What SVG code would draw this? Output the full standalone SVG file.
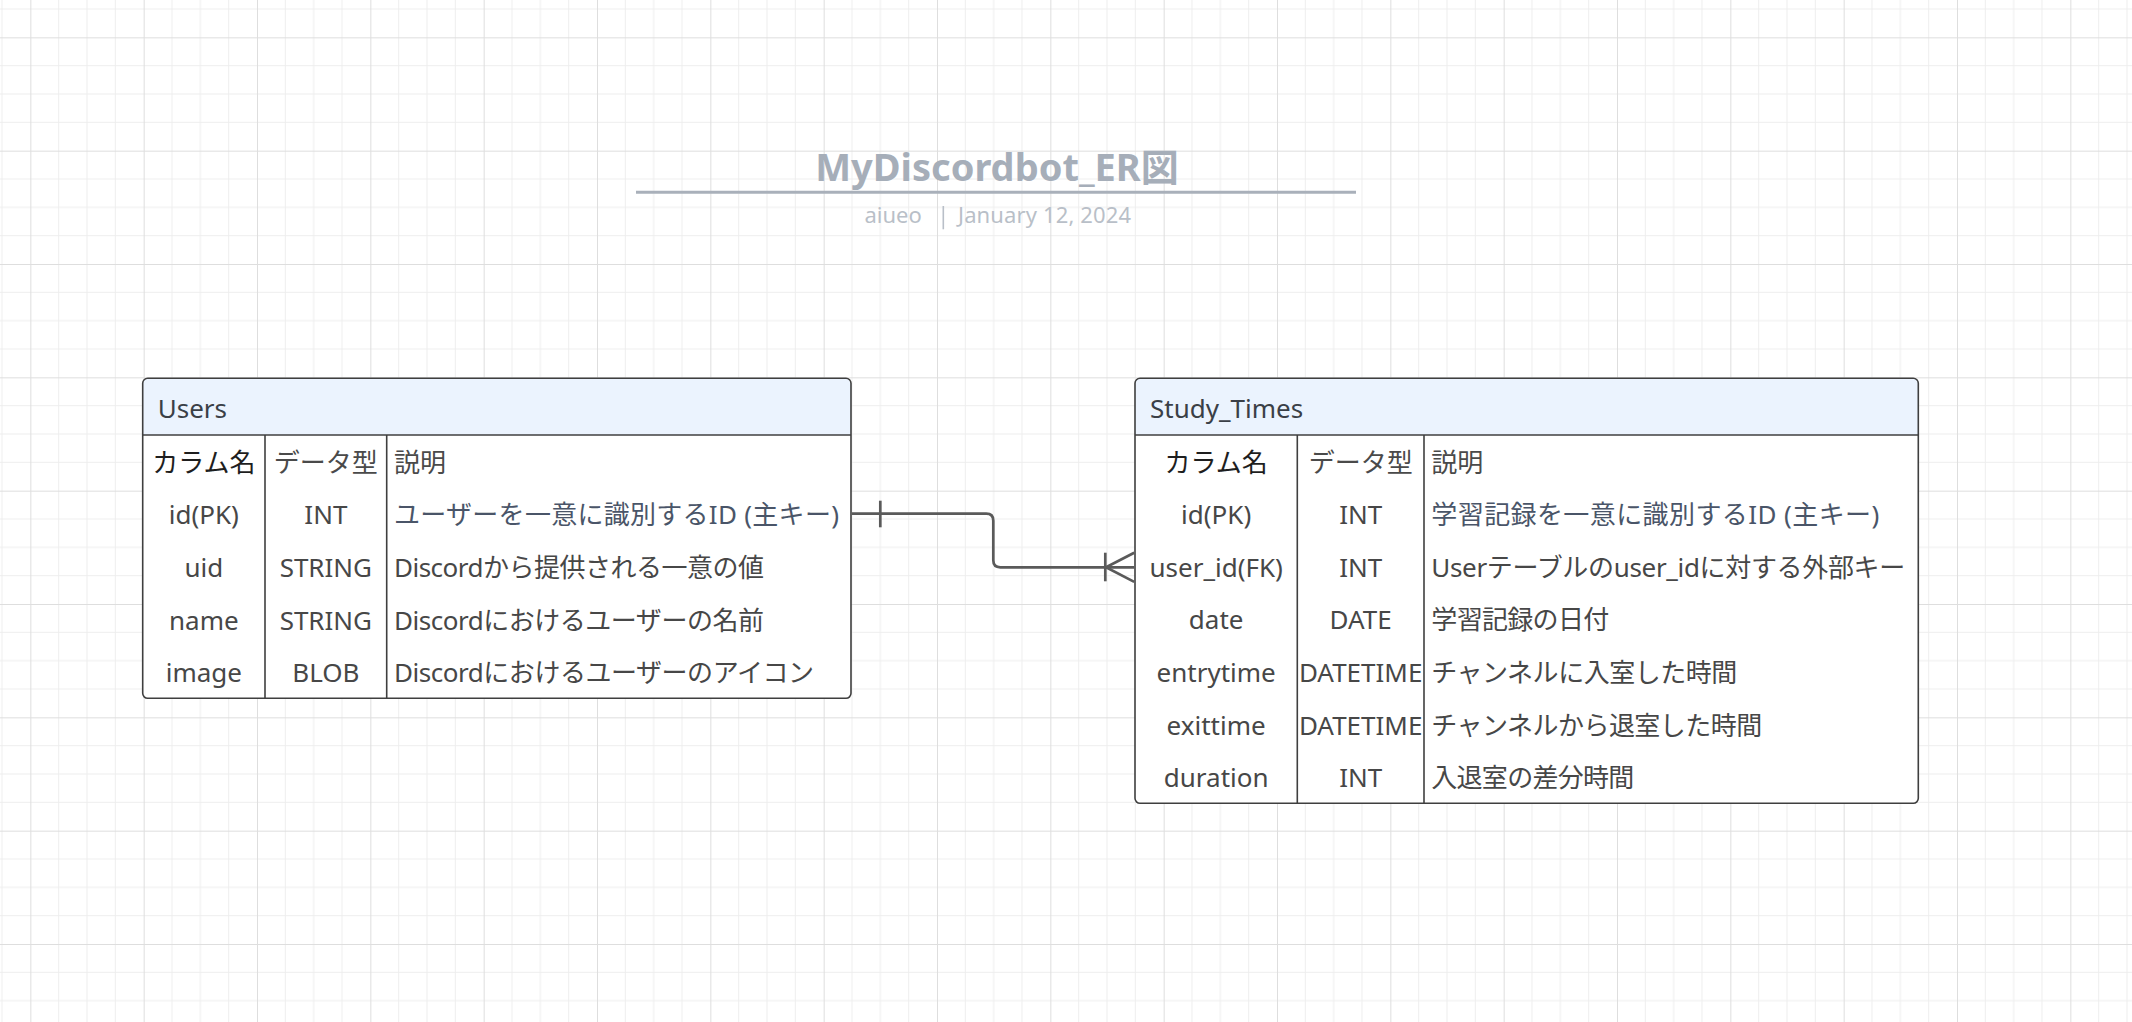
<svg xmlns="http://www.w3.org/2000/svg" width="2132" height="1022" viewBox="0 0 2132 1022">
<defs>
<pattern id="grid" patternUnits="userSpaceOnUse" x="30.333" y="37.333" width="113.333" height="113.333">
<path d="M28.333 0V113.333M56.667 0V113.333M85 0V113.333M0 28.333H113.333M0 56.667H113.333M0 85H113.333" stroke="#eeeeee" stroke-width="1" fill="none"/>
<path d="M0.5 0V113.333M0 0.5H113.333" stroke="#dedede" stroke-width="1" fill="none"/>
</pattern>
<style>
text{font-family:'Noto Sans','Noto Sans CJK JP',sans-serif;}
.box{fill:#ffffff;stroke:none;}
.outline{fill:none;stroke:#3f3f3f;stroke-width:1.6;}
.hdr{fill:#ebf3fe;stroke:none;}
.div{stroke:#3f3f3f;stroke-width:1.6;fill:none;}
.ttl{font-size:26px;fill:#3a3f47;}
.ch{font-size:26px;fill:#4a4a4a;}
.ch0{font-size:26px;fill:#1e1e1e;}
.c{font-size:26px;fill:#474747;text-anchor:middle;}
.d{font-size:26px;fill:#474747;}
.pk{font-size:26px;fill:#4a5568;}
.sub{font-size:22px;fill:#b9bfc8;}
.conn{fill:none;stroke:#5a5a5a;stroke-width:2.7;}
</style>
</defs>
<rect width="2132" height="1022" fill="#ffffff"/>
<rect width="2132" height="1022" fill="url(#grid)"/>

<g id="title">
<text x="997" y="180.7" text-anchor="middle" style="font-size:38px;font-weight:bold;fill:#a6aeb9;">MyDiscordbot_ER図</text>
<line x1="636" y1="192.3" x2="1356" y2="192.3" stroke="#a9b0ba" stroke-width="3"/>
<text class="sub" x="864.5" y="222.7">aiueo</text>
<line x1="943.3" y1="206" x2="943.3" y2="229.3" stroke="#b9bfc8" stroke-width="1.6"/>
<text class="sub" x="958" y="222.7" textLength="173">January 12, 2024</text>
</g>

<g id="users">
<rect class="box" x="142.7" y="378.3" width="708.3" height="320" rx="5"/>
<path class="hdr" d="M142.7 435V383.3A5 5 0 0 1 147.7 378.3H846A5 5 0 0 1 851 383.3V435Z"/>
<line class="div" x1="142.7" y1="435" x2="851" y2="435"/>
<line class="div" x1="265" y1="435" x2="265" y2="698.3"/>
<line class="div" x1="386.7" y1="435" x2="386.7" y2="698.3"/>
<rect class="outline" x="142.7" y="378.3" width="708.3" height="320" rx="5"/>
<text class="ttl" x="157.7" y="417.7">Users</text>
<text class="ch0" x="203.85" y="471.6" text-anchor="middle">カラム名</text>
<text class="ch" x="325.85" y="471.6" text-anchor="middle">データ型</text>
<text class="ch" x="394" y="471.6">説明</text>
<text class="c" x="203.85" y="524.3">id(PK)</text>
<text class="c" x="325.85" y="524.3">INT</text>
<text class="pk" x="394" y="524.3" textLength="445">ユーザーを一意に識別するID (主キー)</text>
<text class="c" x="203.85" y="577">uid</text>
<text class="c" x="325.85" y="577">STRING</text>
<text class="d" x="394" y="577" textLength="370">Discordから提供される一意の値</text>
<text class="c" x="203.85" y="629.6">name</text>
<text class="c" x="325.85" y="629.6">STRING</text>
<text class="d" x="394" y="629.6" textLength="370">Discordにおけるユーザーの名前</text>
<text class="c" x="203.85" y="682.3">image</text>
<text class="c" x="325.85" y="682.3">BLOB</text>
<text class="d" x="394" y="682.3" textLength="420">Discordにおけるユーザーのアイコン</text>
</g>

<g id="study_times">
<rect class="box" x="1135" y="378.3" width="783.3" height="425" rx="5"/>
<path class="hdr" d="M1135 435V383.3A5 5 0 0 1 1140 378.3H1913.3A5 5 0 0 1 1918.3 383.3V435Z"/>
<line class="div" x1="1135" y1="435" x2="1918.3" y2="435"/>
<line class="div" x1="1297.3" y1="435" x2="1297.3" y2="803.3"/>
<line class="div" x1="1424" y1="435" x2="1424" y2="803.3"/>
<rect class="outline" x="1135" y="378.3" width="783.3" height="425" rx="5"/>
<text class="ttl" x="1150" y="417.7">Study_Times</text>
<text class="ch0" x="1216.15" y="471.6" text-anchor="middle">カラム名</text>
<text class="ch" x="1360.65" y="471.6" text-anchor="middle">データ型</text>
<text class="ch" x="1431.3" y="471.6">説明</text>
<text class="c" x="1216.15" y="524.2">id(PK)</text>
<text class="c" x="1360.65" y="524.2">INT</text>
<text class="pk" x="1431.3" y="524.2" textLength="448">学習記録を一意に識別するID (主キー)</text>
<text class="c" x="1216.15" y="576.8">user_id(FK)</text>
<text class="c" x="1360.65" y="576.8">INT</text>
<text class="d" x="1431.3" y="576.8" textLength="474">Userテーブルのuser_idに対する外部キー</text>
<text class="c" x="1216.15" y="629.4">date</text>
<text class="c" x="1360.65" y="629.4">DATE</text>
<text class="d" x="1431.3" y="629.4" textLength="178">学習記録の日付</text>
<text class="c" x="1216.15" y="682">entrytime</text>
<text class="c" x="1360.65" y="682">DATETIME</text>
<text class="d" x="1431.3" y="682" textLength="306">チャンネルに入室した時間</text>
<text class="c" x="1216.15" y="734.7">exittime</text>
<text class="c" x="1360.65" y="734.7">DATETIME</text>
<text class="d" x="1431.3" y="734.7" textLength="331">チャンネルから退室した時間</text>
<text class="c" x="1216.15" y="787.3">duration</text>
<text class="c" x="1360.65" y="787.3">INT</text>
<text class="d" x="1431.3" y="787.3" textLength="203">入退室の差分時間</text>
</g>

<g id="connectors">
<path class="conn" d="M851.8 513.7H986.3Q993.3 513.7 993.3 520.7V560.3Q993.3 567.3 1000.3 567.3H1134.2"/>
<line class="conn" x1="880.3" y1="500.7" x2="880.3" y2="527.3"/>
<line class="conn" x1="1105.3" y1="552.7" x2="1105.3" y2="581.3"/>
<path class="conn" d="M1134.2 552.7L1106 567.3L1134.2 581.9"/>
</g>
</svg>
